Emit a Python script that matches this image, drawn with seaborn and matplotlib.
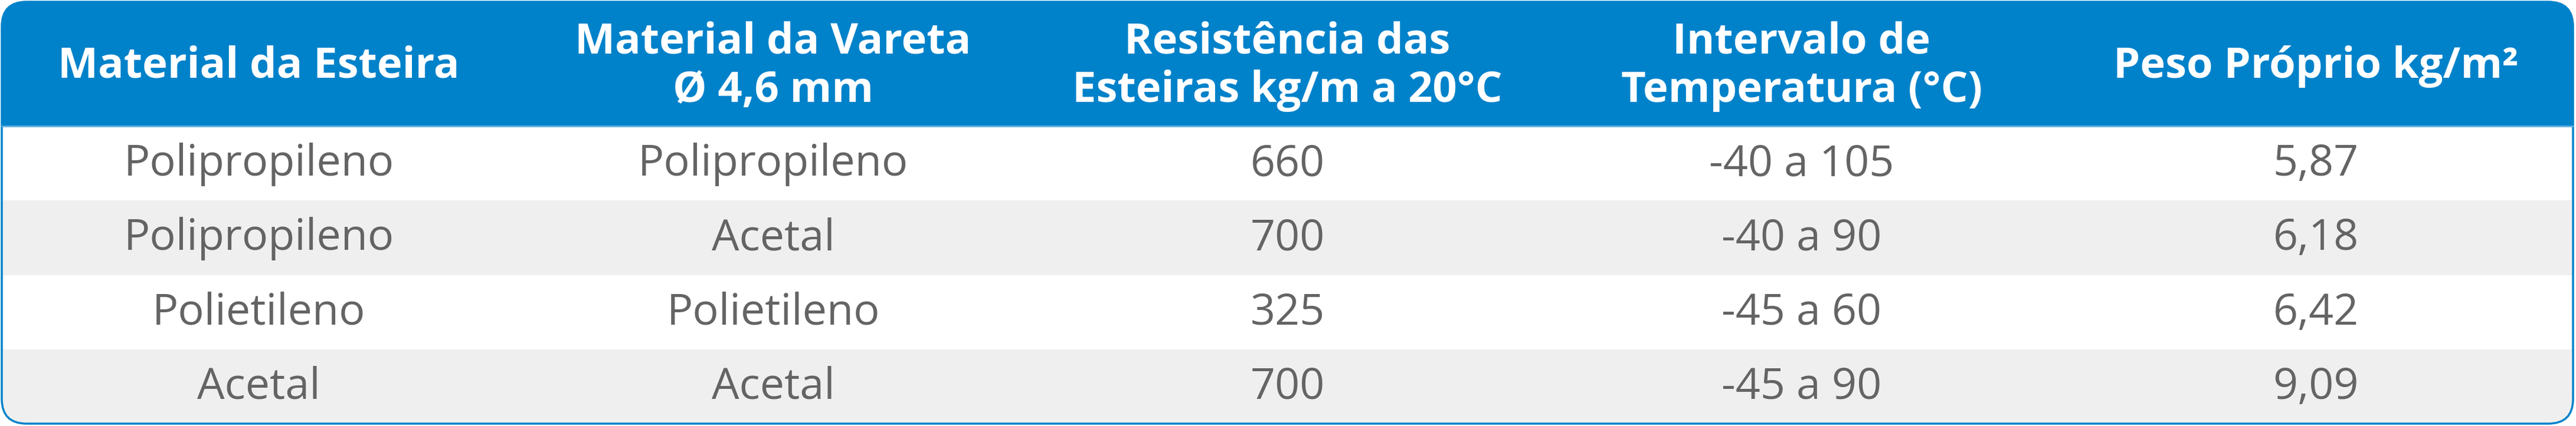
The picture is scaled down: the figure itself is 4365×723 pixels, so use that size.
import matplotlib
matplotlib.use("Agg")
import matplotlib.pyplot as plt
import seaborn as sns
import numpy as np
from matplotlib.patches import FancyBboxPatch, Rectangle

headers = ["Material da Esteira", "Material da Vareta\nØ 4,6 mm",
           "Resistência das\nEsteiras kg/m a 20°C", "Intervalo de\nTemperatura (°C)",
           "Peso Próprio kg/m²"]
esteira = ["Polipropileno", "Polipropileno", "Polietileno", "Acetal"]
vareta = ["Polipropileno", "Acetal", "Polietileno", "Acetal"]
resistencia = ["660", "700", "325", "700"]
temperatura = ["-40 a 105", "-40 a 90", "-45 a 60", "-45 a 90"]
peso = ["5,87", "6,18", "6,42", "9,09"]

sns.set_theme(style="white")
plt.rcParams['font.family'] = ['Open Sans', 'DejaVu Sans']

W, H = 4365, 723
fig = plt.figure(figsize=(W / 100, H / 100), dpi=100)
ax = fig.add_axes([0, 0, 1, 1])
ax.set_xlim(0, W)
ax.set_ylim(H, 0)
ax.axis("off")

blue = "#0082CA"
x0, x1 = 3, W - 5
y0, y1 = 3, H - 4
hdr = 214
nrows = len(esteira)
rh = (y1 - hdr) / nrows

shape = FancyBboxPatch((x0, y0), x1 - x0, y1 - y0,
                       boxstyle="round,pad=0,rounding_size=42",
                       facecolor="white", edgecolor="none")
ax.add_patch(shape)
top = Rectangle((x0, y0), x1 - x0, hdr - y0, facecolor=blue, edgecolor="none")
ax.add_patch(top)
top.set_clip_path(shape)
for i in range(nrows):
    c = "white" if i % 2 == 0 else "#EFEFEF"
    r = Rectangle((x0, hdr + i * rh), x1 - x0, rh, facecolor=c, edgecolor="none")
    ax.add_patch(r)
    r.set_clip_path(shape)
outline = FancyBboxPatch((x0, y0), x1 - x0, y1 - y0,
                         boxstyle="round,pad=0,rounding_size=42",
                         facecolor="none", edgecolor=blue, linewidth=2.5)
ax.add_patch(outline)
ax.plot([x0, x1], [hdr, hdr], color="#5FB0DE", lw=2)

ncol = len(headers)
cw = (x1 - x0) / ncol
cols = [esteira, vareta, resistencia, temperatura, peso]
for j, h in enumerate(headers):
    cx = x0 + cw * (j + 0.5)
    ax.text(cx, hdr / 2 + 6, h, ha="center", va="center", color="white",
            fontsize=52, fontweight="bold", linespacing=1.2)
    for i, v in enumerate(cols[j]):
        ax.text(cx, hdr + rh * (i + 0.5) + 2, v, ha="center", va="center",
                color="#646464", fontsize=53)

fig.savefig("out.png", dpi=100)
